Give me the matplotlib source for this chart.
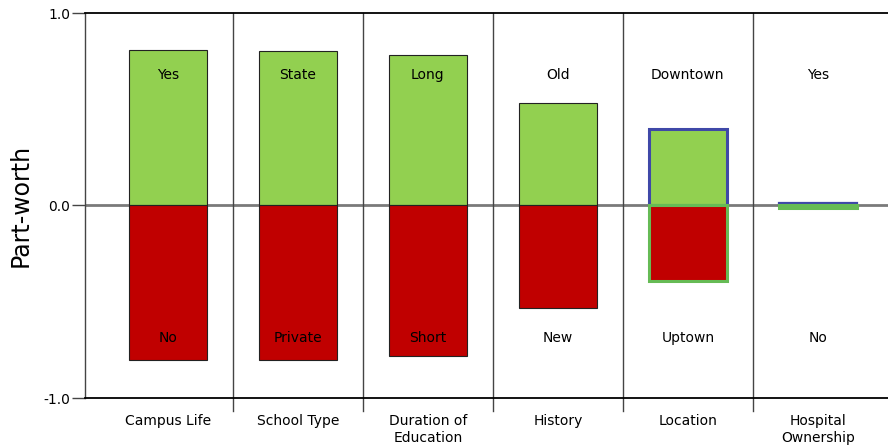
import matplotlib
matplotlib.use("Agg")
import matplotlib.pyplot as plt

categories = ["Campus Life", "School Type", "Duration of\nEducation", "History", "Location", "Hospital\nOwnership"]
pos_values = [0.81, 0.805, 0.78, 0.535, 0.395, 0.012]
neg_values = [-0.805, -0.80, -0.78, -0.535, -0.39, -0.012]
pos_labels = ["Yes", "State", "Long", "Old", "Downtown", "Yes"]
neg_labels = ["No", "Private", "Short", "New", "Uptown", "No"]
yticks = [-1.0, 0.0, 1.0]
ytick_labels = ["-1.0", "0.0", "1.0"]

plt.rcParams['font.family'] = ['DejaVu Sans']

fig = plt.figure(figsize=(8.88, 4.48), dpi=100)
ax = fig.add_axes([85/888, 1 - 398/448, 1 - 85/888, (398 - 13)/448])

x = list(range(len(categories)))
ax.set_xlim(-0.638, 5.54)
ax.set_ylim(-1, 1)

ax.axhline(0, color="#7a7a7a", lw=2, zorder=1)

pos_edge = ["#222222"] * 4 + ["#3f48a8", "#3f48a8"]
neg_edge = ["#222222"] * 4 + ["#66bb55", "#66bb55"]
pos_lw = [0.8] * 4 + [2.2, 1.6]
neg_lw = [0.8] * 4 + [2.2, 2.2]

for i in x:
    ax.bar(i, pos_values[i], width=0.6, color="#92d050", edgecolor=pos_edge[i], linewidth=pos_lw[i], zorder=2)
    ax.bar(i, neg_values[i], width=0.6, color="#c00000", edgecolor=neg_edge[i], linewidth=neg_lw[i], zorder=2)
    ax.text(i, 0.68, pos_labels[i], ha="center", va="center", fontsize=10, color="black", zorder=3)
    ax.text(i, -0.69, neg_labels[i], ha="center", va="center", fontsize=10, color="black", zorder=3)
    ax.text(i, -1.083, categories[i], ha="center", va="top", fontsize=10, color="black",
            linespacing=1.25, clip_on=False)

for b in [0.5, 1.5, 2.5, 3.5, 4.5]:
    ax.plot([b, b], [1, -1.068], color="#444444", lw=1, clip_on=False, zorder=1)

ax.spines["right"].set_visible(False)
ax.spines["top"].set_linewidth(1.3)
ax.spines["bottom"].set_linewidth(1.3)
ax.spines["left"].set_linewidth(1.0)
ax.spines["left"].set_color("#444444")

ax.set_xticks([])
ax.set_yticks(yticks)
ax.set_yticklabels(ytick_labels, fontsize=10)
ax.tick_params(axis="y", length=9.5, width=1, color="#444444", pad=1)
ax.set_ylabel("Part-worth", fontsize=17, labelpad=8)

fig.savefig("out.png", dpi=100)
